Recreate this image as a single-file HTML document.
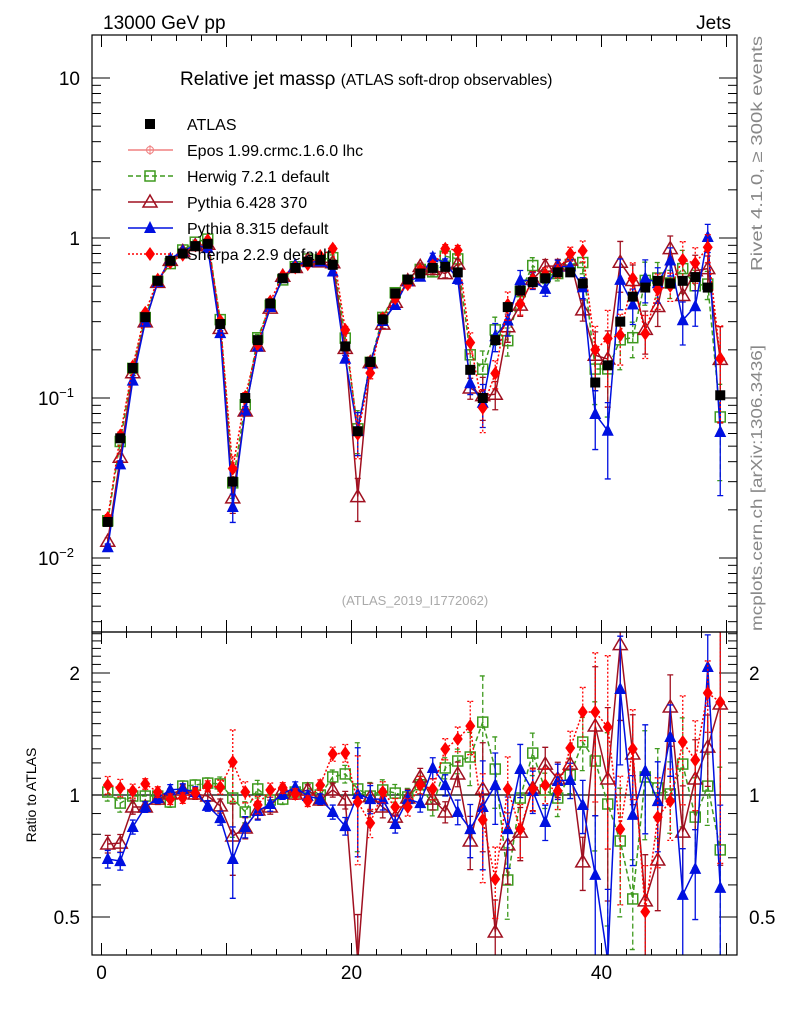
<!DOCTYPE html>
<html><head><meta charset="utf-8">
<style>
html,body{margin:0;padding:0;background:#fff;width:786px;height:1024px;overflow:hidden;}
svg{display:block;font-family:"Liberation Sans",sans-serif;}
</style></head>
<body>
<svg id="chart" width="786" height="1024" viewBox="0 0 786 1024">
<defs>
<clipPath id="clipMain"><rect x="92" y="35" width="645" height="597"/></clipPath>
<clipPath id="clipRatio"><rect x="92" y="632" width="645" height="323"/></clipPath>
</defs>
<text x="103" y="29" font-size="19">13000 GeV pp</text>
<text x="731" y="29" font-size="19" text-anchor="end">Jets</text>
<text x="180" y="85" font-size="19">Relative jet massρ <tspan font-size="15.5">(ATLAS soft-drop observables)</tspan></text>
<text x="415" y="605" font-size="13" fill="#aaa" text-anchor="middle">(ATLAS_2019_I1772062)</text>
<text transform="translate(762,271) rotate(-90)" font-size="16" fill="#888" textLength="235" lengthAdjust="spacingAndGlyphs">Rivet 4.1.0, ≥ 300k events</text>
<text transform="translate(762,631) rotate(-90)" font-size="16" fill="#888" textLength="286" lengthAdjust="spacingAndGlyphs">mcplots.cern.ch [arXiv:1306.3436]</text>
<text transform="translate(36,795) rotate(-90)" font-size="14" text-anchor="middle">Ratio to ATLAS</text>
<g id="axes"></g>
<g id="mainMarks" clip-path="url(#clipMain)"></g>
<g id="ratioMarks" clip-path="url(#clipRatio)"></g>
<g id="legend"></g>
<rect x="92" y="35" width="645" height="597" fill="none" stroke="#000" stroke-width="1.2"/>
<rect x="92" y="632" width="645" height="323" fill="none" stroke="#000" stroke-width="1.2"/>
</svg>
<script>
const atlas = [0.0168,0.056,0.154,0.32,0.54,0.72,0.8,0.89,0.92,0.29,0.03,0.1,0.23,0.39,0.56,0.65,0.71,0.73,0.68,0.21,0.062,0.168,0.31,0.45,0.55,0.6,0.65,0.66,0.61,0.15,0.1,0.23,0.37,0.47,0.53,0.56,0.61,0.61,0.52,0.125,0.16,0.3,0.43,0.49,0.54,0.52,0.54,0.57,0.49,0.104];
const ratioHerwig = [1.017,0.955,0.994,0.994,0.994,0.961,1.052,1.058,1.07,1.065,0.983,0.908,1.035,0.972,0.977,1.017,1.041,1.0,1.108,1.127,1.035,0.994,1.029,1.011,0.989,1.06,0.945,1.166,1.213,1.241,1.513,1.159,0.617,0.983,1.269,1.029,0.983,1.12,1.351,1.213,0.95,0.77,0.554,1.108,1.041,1.006,1.192,0.882,1.052,0.732];
const ratioPy6 = [0.757,0.761,0.934,0.934,0.977,1.006,1.029,1.006,0.994,0.94,0.792,0.829,0.918,0.934,1.029,1.006,1.029,0.972,1.029,0.972,0.39,0.99,0.934,0.882,0.983,1.108,0.977,0.908,1.127,0.77,1.035,0.459,0.753,0.81,1.04,1.192,1.095,1.192,0.684,1.48,1.095,2.35,1.262,0.548,0.691,1.649,0.81,1.095,1.313,1.677];
const ratioPy8 = [0.695,0.687,0.834,0.934,0.983,1.03,1.035,1.017,0.94,0.877,0.695,0.834,0.913,0.95,1.006,1.046,0.994,0.977,0.908,0.838,1.006,0.977,0.977,0.848,0.977,0.955,1.166,1.058,0.908,0.824,0.934,1.058,0.824,1.159,1.023,0.858,1.083,1.089,0.945,0.635,0.39,1.826,0.893,1.146,0.966,1.39,0.567,0.657,2.07,0.59];
const ratioSherpa = [1.058,1.041,1.023,1.065,1.017,0.977,0.983,1.011,1.052,1.046,1.206,1.017,0.945,1.029,1.041,1.006,0.966,1.058,1.262,1.269,0.961,0.853,1.017,0.934,0.934,1.058,1.035,1.299,1.375,1.48,0.868,0.62,1.035,0.824,1.035,1.058,1.023,1.306,1.602,1.602,1.471,0.824,1.299,0.515,0.882,0.966,1.351,1.22,1.785,1.695];
const mcErr = [0.05,0.05,0.04,0.03,0.03,0.03,0.03,0.03,0.03,0.04,0.2,0.06,0.05,0.04,0.03,0.03,0.03,0.03,0.04,0.05,0.3,0.08,0.06,0.05,0.05,0.05,0.06,0.06,0.07,0.15,0.3,0.2,0.2,0.15,0.12,0.1,0.1,0.1,0.15,0.4,0.5,0.35,0.25,0.3,0.25,0.2,0.3,0.25,0.2,0.6];
const xTicks = [0,20,40];
const mainTickLabels = [[1,"10"],[0,"1"]];
const ratioTickLabels = [2,1,0.5];

const NS="http://www.w3.org/2000/svg";
function X(v){return 101.5+12.5*v;}
function YM(v){return 238-160*Math.log10(v);}
function YR(r){return 795-122*Math.log2(r);}
function mk(tag,attrs,parent){const e=document.createElementNS(NS,tag);for(const k in attrs)e.setAttribute(k,attrs[k]);parent.appendChild(e);return e;}

const axes=document.getElementById('axes');
for(let v=0;v<=50;v+=2){
  const x=X(v);const major=(v%10===0);const L=major?12:6;
  for(const [y0,dir] of [[632,-1],[35,1],[955,-1],[632,1]]){
    const t=mk('line',{x1:x,x2:x,y1:y0,y2:y0+dir*L,stroke:'#000','stroke-width':1},axes);
    
    
  }
}
xTicks.forEach(v=>{
  const t=mk('text',{x:X(v),y:979,'font-size':19,'text-anchor':'middle'},axes);t.textContent=v;
  
  
});
for(let d=-3;d<=1;d++){
  for(let m=1;m<=9;m++){
    const v=m*Math.pow(10,d);const y=YM(v);
    if(y<35||y>632)continue;const L=m===1?18:9;
    const a=mk('line',{x1:92,x2:92+L,y1:y,y2:y,stroke:'#000'},axes);
    
    
    const b=mk('line',{x1:737,x2:737-L,y1:y,y2:y,stroke:'#000'},axes);
    
    
  }
}
mainTickLabels.forEach(([p,s])=>{
  const t=mk('text',{x:80,y:YM(Math.pow(10,p))+7,'font-size':19,'text-anchor':'end'},axes);t.textContent=s;
  
  
});
[[-1],[-2]].forEach(([p])=>{
  const t=mk('text',{x:38,y:YM(Math.pow(10,p))+7,'font-size':19},axes);
  t.innerHTML='10<tspan dy="-8" font-size="13">−'+(-p)+'</tspan>';
  
  
});
for(let v=0.4;v<=2.55;v+=0.1){
  const r=Math.round(v*10)/10;const y=YR(r);if(y<632||y>955)continue;
  const major=(r===0.5||r===1||r===2);const L=major?18:9;
  const a=mk('line',{x1:92,x2:92+L,y1:y,y2:y,stroke:'#000'},axes);
  
  
  const b=mk('line',{x1:737,x2:737-L,y1:y,y2:y,stroke:'#000'},axes);
  
  
}
ratioTickLabels.forEach(r=>{
  const t=mk('text',{x:80,y:YR(r)+7,'font-size':19,'text-anchor':'end'},axes);t.textContent=r;
  
  
  const t2=mk('text',{x:749,y:YR(r)+7,'font-size':19},axes);t2.textContent=r;
  
  
});
const one=mk('line',{x1:92,x2:737,y1:YR(1),y2:YR(1),stroke:'#000','stroke-width':1.3},document.getElementById('ratioMarks'));



function marker(g,type,x,y,color){
  let e;
  if(type==='sq') e=mk('rect',{x:x-5,y:y-5,width:10,height:10,fill:'#000'},g);
  else if(type==='osq') e=mk('rect',{x:x-5,y:y-5,width:10,height:10,fill:'none',stroke:color,'stroke-width':1.5},g);
  else if(type==='otri') e=mk('polygon',{points:`${x},${y-7} ${x-7},${y+5} ${x+7},${y+5}`,fill:'none',stroke:color,'stroke-width':1.5},g);
  else if(type==='tri') e=mk('polygon',{points:`${x},${y-7} ${x-6},${y+5} ${x+6},${y+5}`,fill:color},g);
  else if(type==='dia') e=mk('polygon',{points:`${x},${y-7} ${x-5},${y} ${x},${y+7} ${x+5},${y}`,fill:color},g);
  return e;
}
const series=[
  {name:'herwig',r:ratioHerwig,color:'#3f9a1f',dash:'5,3',m:'osq'},
  {name:'pythia6',r:ratioPy6,color:'#a01020',dash:'',m:'otri'},
  {name:'pythia8',r:ratioPy8,color:'#0010e0',dash:'',m:'tri'},
  {name:'sherpa',r:ratioSherpa,color:'#ff0000',dash:'2,2',m:'dia'}
];
const gm=document.getElementById('mainMarks'), gr=document.getElementById('ratioMarks');
series.forEach(s=>{
  [[gm,i=>YM(atlas[i]*s.r[i]),(i,f)=>YM(atlas[i]*s.r[i]*f)],[gr,i=>YR(s.r[i]),(i,f)=>YR(s.r[i]*f)]].forEach(([g,fy,fe])=>{
    const pts=atlas.map((_,i)=>X(i+0.5)+','+fy(i)).join(' ');
    const pl=mk('polyline',{points:pts,fill:'none',stroke:s.color,'stroke-width':1.5,'stroke-dasharray':s.dash},g);
    
    
    atlas.forEach((_,i)=>{
      const x=X(i+0.5);const e=mcErr[i];
      const lo=Math.max(1-e,0.01);
      const eb=mk('path',{d:`M${x},${fe(i,1+e)}V${fe(i,lo)}M${x-3},${fe(i,1+e)}h6M${x-3},${fe(i,lo)}h6`,stroke:s.color,'stroke-width':1.3,'stroke-dasharray':s.dash,fill:'none'},g);
      
      
      const m=marker(g,s.m,x,fy(i),s.color);
      
      
    });
  });
});
atlas.forEach((v,i)=>{
  const m=marker(gm,'sq',X(i+0.5),YM(v),'#000');
  
  
});

const lg=document.getElementById('legend');
const entries=[
  {t:'ATLAS',m:'sq',c:'#000',line:false},
  {t:'Epos 1.99.crmc.1.6.0 lhc',m:'plus',c:'#f08080',dash:''},
  {t:'Herwig 7.2.1 default',m:'osq',c:'#3f9a1f',dash:'5,3'},
  {t:'Pythia 6.428 370',m:'otri',c:'#a01020',dash:''},
  {t:'Pythia 8.315 default',m:'tri',c:'#0010e0',dash:''},
  {t:'Sherpa 2.2.9 default',m:'dia',c:'#ff0000',dash:'2,2'}
];
entries.forEach((e,k)=>{
  const y=124+26*k;
  const g=mk('g',{},lg);
  
  
  if(e.line!==false) mk('line',{x1:128,x2:173,y1:y,y2:y,stroke:e.c,'stroke-width':1.5,'stroke-dasharray':e.dash},g);
  if(e.m==='plus'){mk('circle',{cx:150,cy:y,r:3.5,fill:'none',stroke:e.c},g);mk('path',{d:`M150,${y-5}V${y+5}`,stroke:e.c},g);}
  else marker(g,e.m,150,y,e.c);
  const t=mk('text',{x:187,y:y+6,'font-size':16},g);t.textContent=e.t;
});
</script>
</body></html>
